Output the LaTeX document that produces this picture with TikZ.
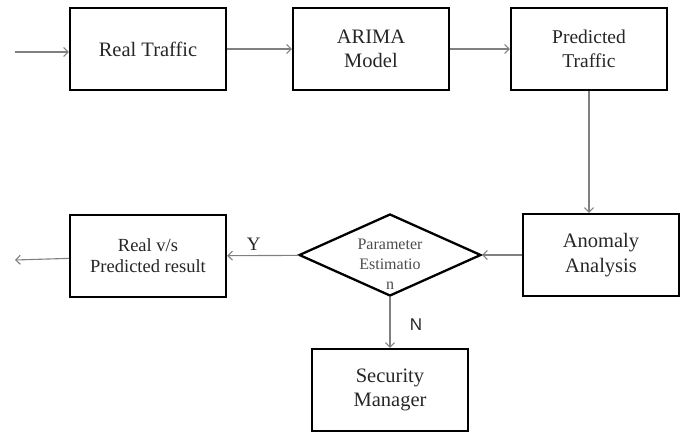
\documentclass[tikz,border=0pt]{standalone}
\usepackage{fontspec}
\setmainfont{Liberation Serif}
\setsansfont{Liberation Sans}
\usetikzlibrary{shapes.geometric,arrows.meta}

\tikzset{
	block/.style={draw=black,line width=2.3pt,minimum width=156pt,minimum height=82pt,
		inner sep=2pt,align=center,text=black!85,font=\fontsize{20.5}{24.5}\selectfont},
	decide/.style={diamond,draw=black,line width=2.3pt,minimum width=182pt,minimum height=82pt,
		inner sep=0pt,align=center,text=black!70,font=\fontsize{16}{20}\selectfont},
	flow/.style={draw=black!50,line width=1.1pt,-{Straight Barb[length=4.5pt,width=9pt]}},
}

\begin{document}
\begin{tikzpicture}
	[x=1pt,y=-1pt]
	\useasboundingbox (0,0) rectangle (685,434);
	\node[block] (n1) at (148,49) {Real Traffic};
	\node[block] (n2) at (371,49) {ARIMA\\Model};
	\node[block,font=\fontsize{19.5}{24.5}\selectfont] (n3) at (589,49) {Predicted\\Traffic};
	\node[block] (n4) at (601,255) {Anomaly\\Analysis};
	\node[decide] (n5) at (390,255) {\raisebox{-15pt}[0pt][0pt]{\begin{tabular}{@{}c@{}}Parameter\\Estimatio\\n\end{tabular}}};
	\node[block,font=\fontsize{18.5}{21}\selectfont] (n6) at (148,256) {Real v/s\\Predicted result};
	\node[block] (n7) at (390,390) {Security\\Manager};
	\coordinate (in) at (15,52);
	\coordinate (out) at (15,260);
	
	\draw[flow] (in) -- (in -| n1.west);
	\foreach \from/\to in {n1/n2,n2/n3,n4/n5}
	\draw[flow] (\from) -- (\to);
	\draw[flow] (n3.south) -- (n3.south |- n4.north);
	\draw[flow] (n5) -- node[pos=.63,above=1pt,text=black!85,font=\fontsize{19}{20}\selectfont] {Y} (n6);
	\draw[flow] (n5) -- node[pos=.55,right=16pt,text=black!85,font=\sffamily\fontsize{17}{20}\selectfont] {N} (n7);
	\draw[flow] (n6) -- (out);
\end{tikzpicture}
\end{document}
